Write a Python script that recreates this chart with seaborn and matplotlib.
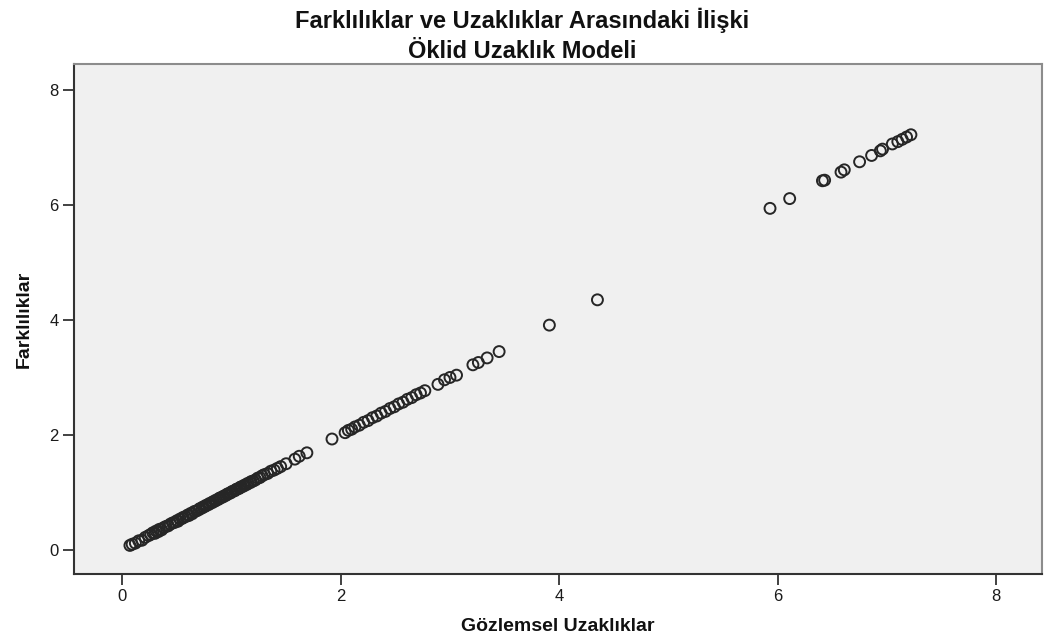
import matplotlib
matplotlib.use("Agg")
import matplotlib.pyplot as plt
import seaborn as sns
import pandas as pd

# Observed distances (x) and dissimilarities (y) for each stimulus pair
gozlemsel = [
    0.07, 0.09, 0.12, 0.15, 0.18, 0.21, 0.24, 0.26, 0.28, 0.30, 0.31, 0.33, 0.34,
    0.36, 0.38, 0.40, 0.42, 0.44, 0.46, 0.48, 0.50, 0.51, 0.53, 0.55, 0.56, 0.58,
    0.60, 0.61, 0.63, 0.64, 0.66, 0.68, 0.70, 0.71, 0.73, 0.74, 0.76, 0.77, 0.79,
    0.80, 0.82, 0.83, 0.85, 0.86, 0.88, 0.89, 0.90, 0.92, 0.93, 0.95, 0.96, 0.97,
    0.99, 1.00, 1.01, 1.03, 1.04, 1.05, 1.07, 1.08, 1.09, 1.11, 1.12, 1.14, 1.15,
    1.17, 1.18, 1.20, 1.22, 1.24, 1.26, 1.28, 1.30, 1.33, 1.36, 1.39, 1.42, 1.45,
    1.50, 1.58, 1.62, 1.69, 1.92, 2.04, 2.07, 2.10, 2.13, 2.17, 2.21, 2.25, 2.29,
    2.33, 2.37, 2.41, 2.45, 2.49, 2.53, 2.57, 2.61, 2.65, 2.69, 2.73, 2.77, 2.89,
    2.95, 3.00, 3.06, 3.21, 3.26, 3.34, 3.45, 3.91, 4.35, 5.93, 6.11, 6.41, 6.43,
    6.58, 6.61, 6.75, 6.86, 6.94, 6.96, 7.05, 7.10, 7.14, 7.18, 7.22,
]
farkliliklar = [
    0.08, 0.10, 0.12, 0.16, 0.17, 0.22, 0.25, 0.27, 0.30, 0.29, 0.33, 0.32, 0.36,
    0.35, 0.39, 0.41, 0.42, 0.45, 0.47, 0.48, 0.51, 0.50, 0.54, 0.55, 0.57, 0.58,
    0.61, 0.60, 0.64, 0.63, 0.67, 0.68, 0.70, 0.72, 0.73, 0.75, 0.76, 0.78, 0.79,
    0.81, 0.82, 0.84, 0.85, 0.87, 0.88, 0.90, 0.91, 0.92, 0.94, 0.95, 0.97, 0.98,
    0.99, 1.01, 1.02, 1.03, 1.05, 1.06, 1.07, 1.09, 1.10, 1.11, 1.13, 1.14, 1.16,
    1.17, 1.19, 1.20, 1.22, 1.25, 1.26, 1.29, 1.31, 1.33, 1.37, 1.39, 1.42, 1.45,
    1.50, 1.58, 1.63, 1.69, 1.93, 2.04, 2.08, 2.10, 2.14, 2.17, 2.22, 2.25, 2.30,
    2.33, 2.38, 2.41, 2.46, 2.49, 2.54, 2.57, 2.62, 2.65, 2.70, 2.73, 2.77, 2.88,
    2.96, 3.00, 3.04, 3.22, 3.26, 3.34, 3.45, 3.91, 4.35, 5.94, 6.11, 6.42, 6.43,
    6.57, 6.61, 6.75, 6.86, 6.94, 6.97, 7.06, 7.10, 7.14, 7.18, 7.22,
]

x_ticks = [0, 2, 4, 6, 8]
y_ticks = [0, 2, 4, 6, 8]

df = pd.DataFrame({"Gözlemsel Uzaklıklar": gozlemsel, "Farklılıklar": farkliliklar})

sns.set_theme(style="white")
plt.rcParams["font.family"] = ["Liberation Sans", "DejaVu Sans"]

fig = plt.figure(figsize=(10.45, 6.44), dpi=100)
ax = fig.add_axes([74 / 1045, 1 - 574 / 644, (1042 - 74) / 1045, (574 - 64) / 644])
ax.set_facecolor("#f0f0f0")

sns.scatterplot(
    data=df, x="Gözlemsel Uzaklıklar", y="Farklılıklar", ax=ax,
    marker="o", s=62, facecolor="none", edgecolor="#262626", linewidth=1.4,
)

ax.set_xlim(-0.442, 8.42)
ax.set_ylim(-0.417, 8.45)
ax.set_xticks(x_ticks)
ax.set_yticks(y_ticks)
ax.tick_params(axis="both", direction="out", length=8, width=1.3, color="#333333",
               labelsize=12, labelcolor="#1a1a1a", pad=3, left=True, bottom=True)

for side in ("left", "bottom"):
    ax.spines[side].set_color("#333333")
    ax.spines[side].set_linewidth(1.5)
for side in ("top", "right"):
    ax.spines[side].set_color("#8c8c8c")
    ax.spines[side].set_linewidth(1.5)

ax.set_xlabel("Gözlemsel Uzaklıklar", fontsize=14, fontweight="bold", labelpad=10,
              color="#111111")
ax.set_ylabel("Farklılıklar", fontsize=14, fontweight="bold", labelpad=12,
              color="#111111")

fig.text(0.5, 1 - 20 / 644, "Farklılıklar ve Uzaklıklar Arasındaki İlişki",
         ha="center", va="center", fontsize=17, fontweight="bold", color="#111111")
fig.text(0.5, 1 - 52 / 644, "Öklid Uzaklık Modeli",
         ha="center", va="center", fontsize=17, fontweight="bold", color="#111111")

fig.savefig("out.png", dpi=100)
